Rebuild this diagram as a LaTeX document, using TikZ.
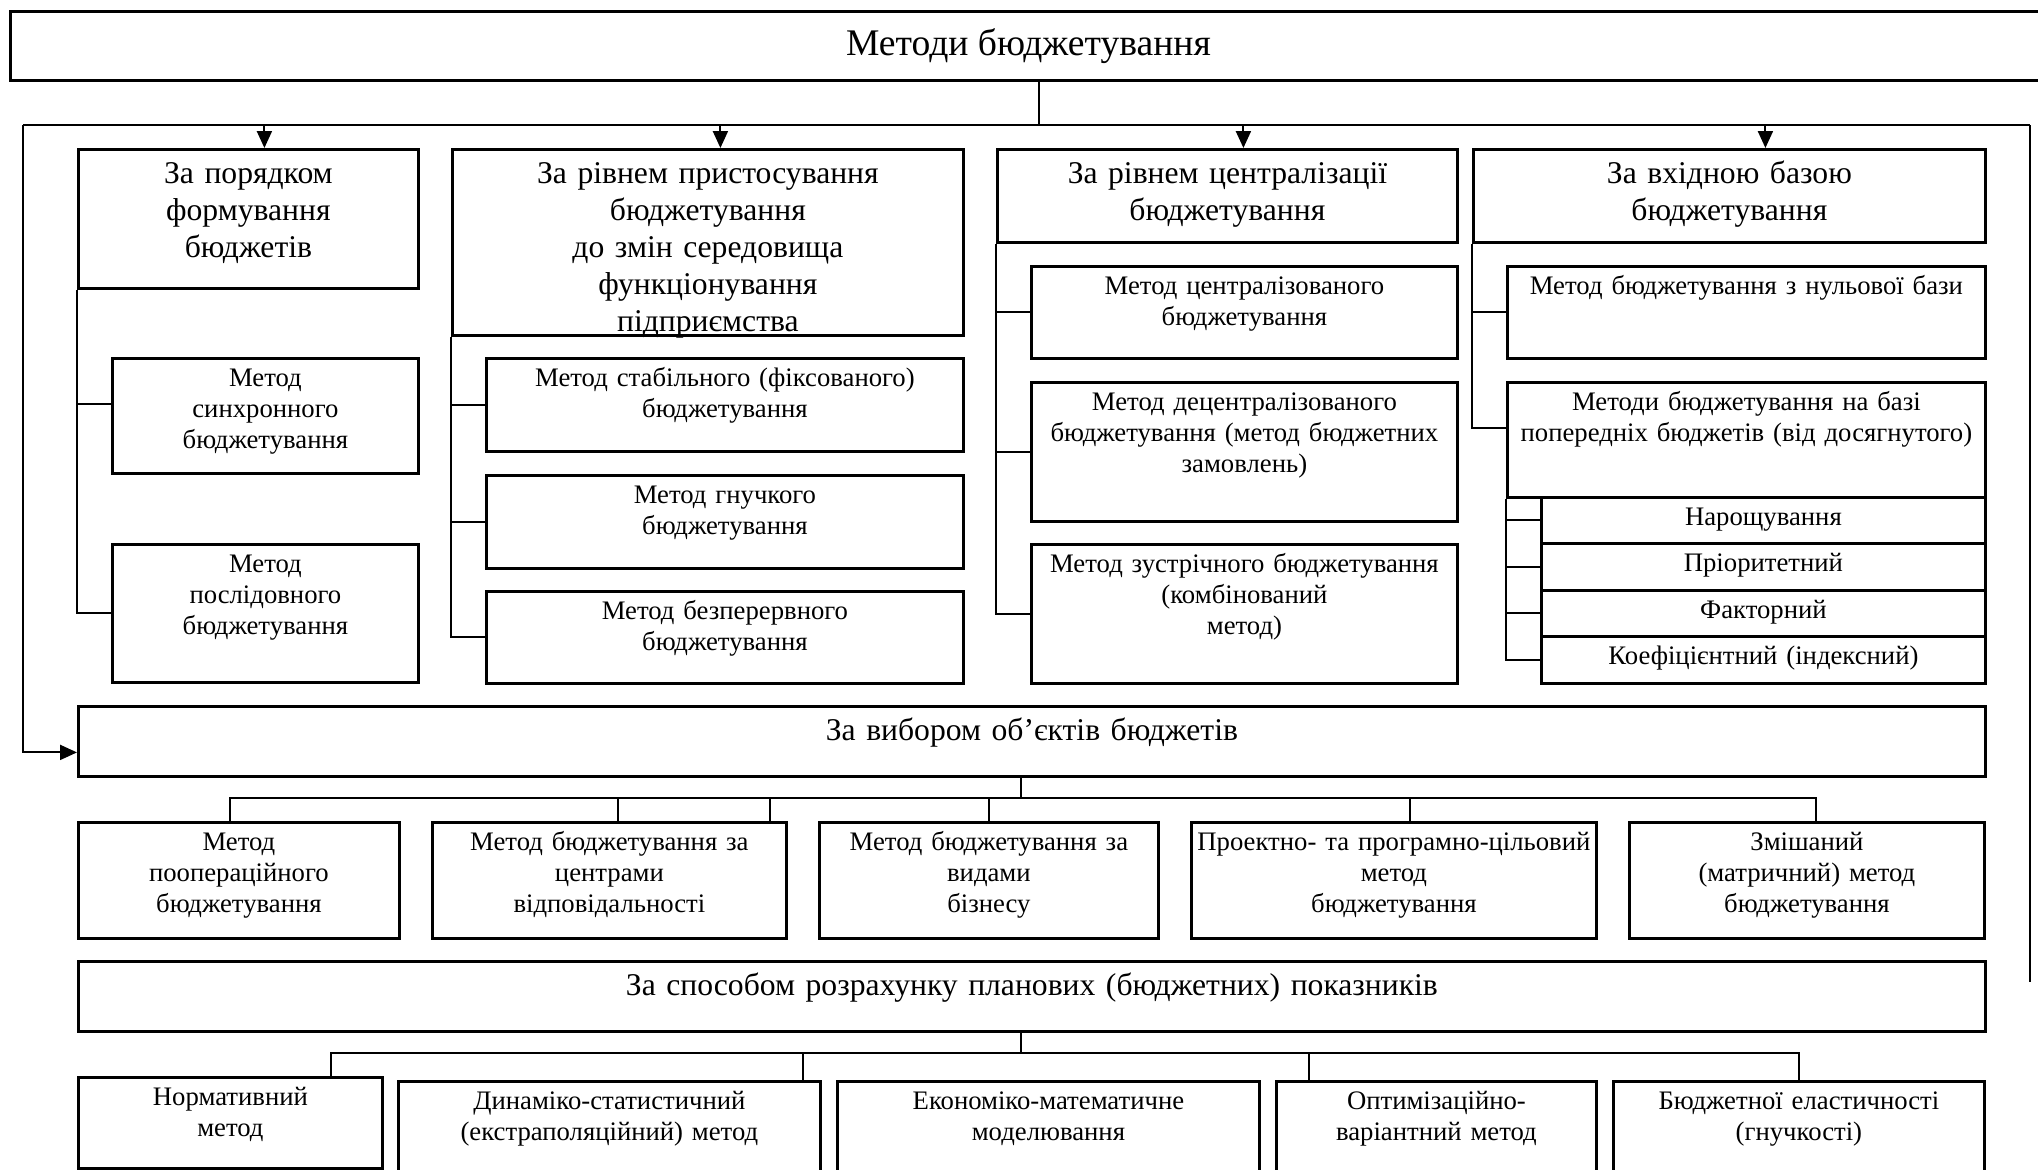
\documentclass[tikz,border=0pt]{standalone}
\usepackage{fontspec}
\setmainfont{Liberation Serif}
\usetikzlibrary{arrows.meta}
\tikzset{
  head/.style={rectangle, draw=black, line width=0.8pt, inner sep=0pt, anchor=north west,
               font=\fontsize{10.7}{12.5}\selectfont},
  cat/.style={rectangle, draw=black, line width=0.8pt, inner sep=0pt, anchor=north west,
              align=center, text height=0.34cm, font=\fontsize{9}{10.5}\selectfont},
  sub/.style={rectangle, draw=black, line width=0.8pt, inner sep=0pt, anchor=north west,
              align=center, text height=0.28cm, font=\fontsize{7.6}{8.8}\selectfont},
  link/.style={line width=0.6pt},
  arrow/.style={-{Triangle[length=0.17cm, width=0.15cm]}, line width=0.6pt},
}
\begin{document}
\begin{tikzpicture}
  \useasboundingbox (0,0) rectangle (20.38,-11.69);
  % root and the frame of lines around the groups
  \node[head, minimum width=20.36cm, minimum height=0.69cm] (root) at (0.09,-0.10) {Методи бюджетування};
  \coordinate (stem) at (10.39,-1.25);
  \coordinate (busL) at (0.23,-1.25);
  \coordinate (busR) at (20.30,-1.25);
  \coordinate (endR) at (20.30,-9.82);

  % four groups
  \node[cat, text width=3.40cm, text depth=1.05cm] (order)   at (0.77,-1.48)  {За порядком\\формування\\бюджетів};
  \node[cat, text width=5.11cm, text depth=1.52cm] (adapt)   at (4.51,-1.48)  {За рівнем пристосування\\бюджетування\\до змін середовища\\функціонування\\підприємства};
  \node[cat, text width=4.60cm, text depth=0.59cm] (central) at (9.96,-1.48)  {За рівнем централізації\\бюджетування};
  \node[cat, text width=5.12cm, text depth=0.59cm] (base)    at (14.72,-1.48) {За вхідною базою\\бюджетування};

  % by order of forming
  \node[sub, text width=3.06cm, text depth=0.87cm] (sync) at (1.11,-3.57) {Метод\\синхронного\\бюджетування};
  \node[sub, text width=3.06cm, text depth=1.10cm] (seq)  at (1.11,-5.43) {Метод\\послідовного\\бюджетування};
  % by adaptation
  \node[sub, text width=4.77cm, text depth=0.65cm] (fixed) at (4.85,-3.57) {Метод стабільного (фіксованого)\\бюджетування};
  \node[sub, text width=4.77cm, text depth=0.65cm] (flex)  at (4.85,-4.74) {Метод гнучкого\\бюджетування};
  \node[sub, text width=4.77cm, text depth=0.64cm] (roll)  at (4.85,-5.90) {Метод безперервного\\бюджетування};
  % by centralisation
  \node[sub, text width=4.26cm, text depth=0.64cm] (cent)   at (10.30,-2.65) {Метод централізованого\\бюджетування};
  \node[sub, text width=4.26cm, text depth=1.11cm] (decent) at (10.30,-3.81) {Метод децентралізованого\\бюджетування (метод бюджетних\\замовлень)};
  \node[sub, text width=4.26cm, text depth=1.11cm] (meet)   at (10.30,-5.43) {Метод зустрічного бюджетування\\(комбінований\\метод)};
  % by input base
  \node[sub, text width=4.78cm, text depth=0.64cm] (zero) at (15.06,-2.65) {Метод бюджетування з нульової бази};
  \node[sub, text width=4.78cm, text depth=0.87cm] (prev) at (15.06,-3.81) {Методи бюджетування на базі\\попередніх бюджетів (від досягнутого)};
  \node[sub, text width=4.44cm, text depth=0.18cm] (incr) at (15.40,-4.96) {Нарощування};
  \node[sub, text width=4.44cm, text depth=0.19cm] (prio) at (15.40,-5.42) {Пріоритетний};
  \node[sub, text width=4.44cm, text depth=0.18cm] (fact) at (15.40,-5.89) {Факторний};
  \node[sub, text width=4.44cm, text depth=0.19cm] (coef) at (15.40,-6.35) {Коефіцієнтний (індексний)};

  % by budget objects
  \node[cat, text width=19.07cm, text depth=0.36cm] (objects) at (0.77,-7.05) {За вибором об’єктів бюджетів};
  \coordinate (objbus) at (10.21,-7.98);
  \node[sub, text width=3.21cm, text depth=0.88cm] (oper)   at (0.77,-8.21)  {Метод\\поопераційного\\бюджетування};
  \node[sub, text width=3.54cm, text depth=0.88cm] (resp)   at (4.31,-8.21)  {Метод бюджетування за\\центрами\\відповідальності};
  \node[sub, text width=3.39cm, text depth=0.88cm] (biz)    at (8.18,-8.21)  {Метод бюджетування за\\видами\\бізнесу};
  \node[sub, text width=4.05cm, text depth=0.88cm] (prog)   at (11.90,-8.21) {Проектно- та програмно-цільовий\\метод\\бюджетування};
  \node[sub, text width=3.55cm, text depth=0.88cm] (matrix) at (16.28,-8.21) {Змішаний\\(матричний) метод\\бюджетування};

  % by way of calculation
  \node[cat, text width=19.07cm, text depth=0.36cm] (calc) at (0.77,-9.60) {За способом розрахунку планових (бюджетних) показників};
  \coordinate (calcbus) at (10.21,-10.53);
  \node[sub, text width=3.04cm, text depth=0.63cm] (norm)  at (0.77,-10.76)  {Нормативний\\метод};
  \node[sub, text width=4.22cm, text depth=0.67cm] (trend) at (3.97,-10.80)  {Динаміко-статистичний\\(екстраполяційний) метод};
  \node[sub, text width=4.22cm, text depth=0.67cm] (econ)  at (8.36,-10.80)  {Економіко-математичне\\моделювання};
  \node[sub, text width=3.20cm, text depth=0.67cm] (optim) at (12.75,-10.80) {Оптимізаційно-\\варіантний метод};
  \node[sub, text width=3.71cm, text depth=0.67cm] (elast) at (16.12,-10.80) {Бюджетної еластичності\\(гнучкості)};

  % frame
  \draw[link] (root.south -| stem) -- (stem);
  \draw[link] (busR) -- (busL);
  \draw[link] (busR) -- (endR);
  \draw[arrow] (busL) |- ([yshift=-0.11cm]objects.west);
  \draw[arrow] ([xshift=0.16cm]order.north |- stem)  -- ([xshift=0.16cm]order.north);
  \draw[arrow] ([xshift=0.125cm]adapt.north |- stem) -- ([xshift=0.125cm]adapt.north);
  \draw[arrow] ([xshift=0.16cm]central.north |- stem) -- ([xshift=0.16cm]central.north);
  \draw[arrow] ([xshift=0.36cm]base.north |- stem)   -- ([xshift=0.36cm]base.north);

  % branches inside the groups
  \draw[link] (order.south west) |- ([yshift=0.115cm]sync.west);
  \draw[link] (order.south west) |- (seq.west);
  \draw[link] (adapt.south west) |- (fixed.west);
  \draw[link] (adapt.south west) |- (flex.west);
  \draw[link] (adapt.south west) |- (roll.west);
  \draw[link] (central.south west) |- (cent.west);
  \draw[link] (central.south west) |- (decent.west);
  \draw[link] (central.south west) |- (meet.west);
  \draw[link] (base.south west) |- (zero.west);
  \draw[link] (base.south west) |- ([yshift=0.115cm]prev.west);
  \draw[link] (prev.south west) |- (incr.west);
  \draw[link] (prev.south west) |- (prio.west);
  \draw[link] (prev.south west) |- (fact.west);
  \draw[link] (prev.south west) |- (coef.west);

  % objects row
  \draw[link] (objects.south -| objbus) -- (objbus);
  \draw[link] ([xshift=-0.085cm]oper.north) |- (objbus) -| ([xshift=0.095cm]matrix.north);
  \draw[link] ([xshift=0.09cm]resp.north) -- ([xshift=0.09cm]resp.north |- objbus);
  \draw[link] ([xshift=1.61cm]resp.north) -- ([xshift=1.61cm]resp.north |- objbus);
  \draw[link] (biz.north) -- (biz.north |- objbus);
  \draw[link] ([xshift=0.165cm]prog.north) -- ([xshift=0.165cm]prog.north |- objbus);

  % calculation row
  \draw[link] (calc.south -| calcbus) -- (calcbus);
  \draw[link] ([xshift=1.01cm]norm.north) |- (calcbus) -| (elast.north);
  \draw[link] ([xshift=1.94cm]trend.north) -- ([xshift=1.94cm]trend.north |- calcbus);
  \draw[link] ([xshift=-1.27cm]optim.north) -- ([xshift=-1.27cm]optim.north |- calcbus);
\end{tikzpicture}
\end{document}
